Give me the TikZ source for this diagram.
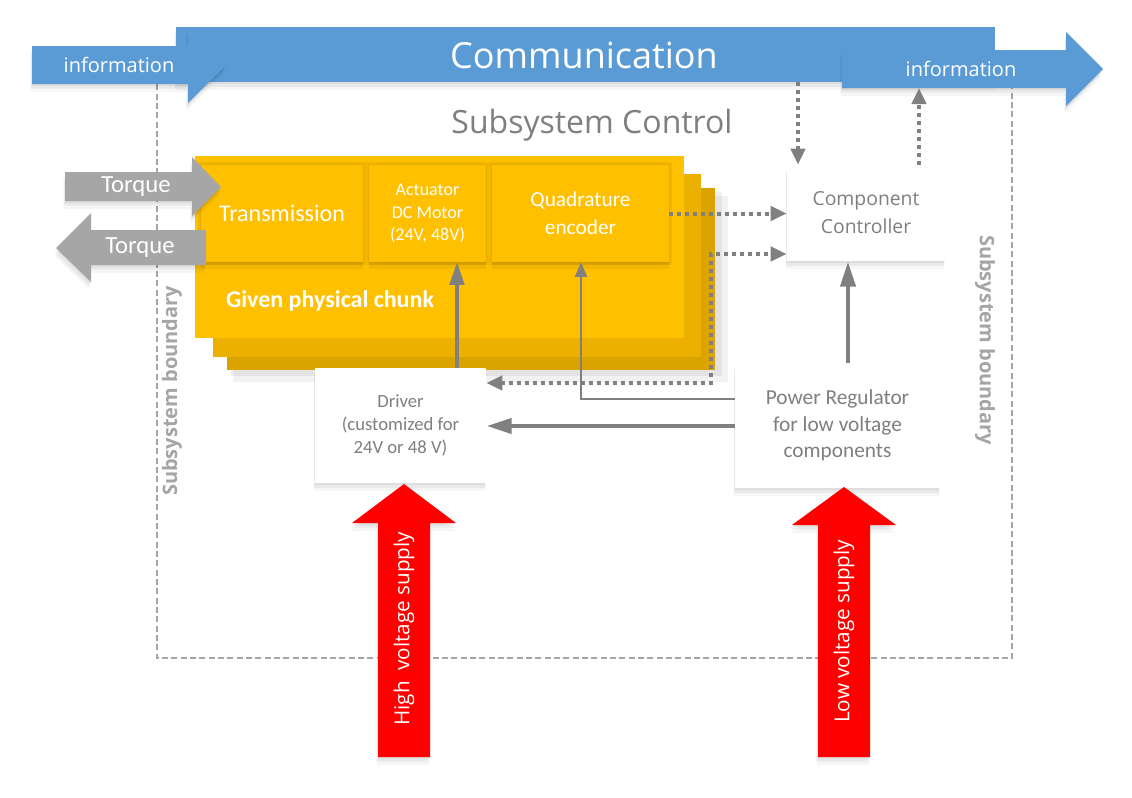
\documentclass[tikz,border=0pt]{standalone}
\usepackage{fontspec}
\setmainfont{Carlito}
\newfontfamily\osans{Open Sans}
\usetikzlibrary{arrows.meta,fit}
\definecolor{cblue}{HTML}{5B9BD5}
\definecolor{cgold}{HTML}{FFC000}
\definecolor{cgoldB}{HTML}{EBB000}
\definecolor{cgoldC}{HTML}{DBA300}
\definecolor{lgray}{HTML}{808080}
\definecolor{tgray}{HTML}{7F7F7F}
\definecolor{agray}{HTML}{A6A6A6}
\definecolor{bgray}{HTML}{A5A5A5}
\definecolor{cred}{HTML}{FF0000}
\tikzset{
  bound/.style={draw=bgray, line width=1.1pt, dash pattern=on 4.5pt off 2.5pt},
  softshadow/.style={
    preaction={fill=black, fill opacity=0.035, transform canvas={xshift=-1pt, yshift=-6pt}},
    preaction={fill=black, fill opacity=0.05, transform canvas={xshift=-1pt, yshift=-3.5pt}},
    preaction={fill=black, fill opacity=0.05, transform canvas={yshift=-1.5pt}}},
  whitebox/.style={fill=white, inner sep=0pt, align=center, text=tgray, softshadow},
  goldbox/.style={fill=cgold, inner sep=0pt, align=center, text=white,
    preaction={draw=black, draw opacity=0.05, line width=4pt},
    preaction={draw=black, draw opacity=0.05, line width=2pt},
    preaction={fill=black, fill opacity=0.05, transform canvas={yshift=-5pt}},
    preaction={fill=black, fill opacity=0.06, transform canvas={yshift=-2.5pt}}},
  bigarrow/.style={softshadow},
  lbl/.style={inner sep=0pt, text=white},
  dotline/.style={draw=lgray, line width=3pt, dash pattern=on 3pt off 3pt},
  dottip/.style={-{Triangle[length=12pt,width=10.5pt]}},
  solidA/.style={draw=lgray, line width=2.3pt, -{Triangle[length=17pt,width=11pt]}},
  solidB/.style={draw=lgray, line width=1.6pt, -{Triangle[length=11pt,width=9pt]}},
  solidC/.style={draw=lgray, line width=3.6pt, -{Triangle[length=19pt,width=11pt]}},
}
\begin{document}
\begin{tikzpicture}[x=0.75pt,y=-0.75pt]
\useasboundingbox (0,0) rectangle (1132,797);
\fill[white] (0,0) rectangle (1132,797);

% subsystem boundary
\draw[bound] (157,75) rectangle (1012,658);
\node[rotate=90, text=bgray, font=\osans\fontsize{15}{18}\selectfont\bfseries] (sbl) at (172,391) {Subsystem boundary};
\node[rotate=-90, text=bgray, font=\osans\fontsize{15}{18}\selectfont\bfseries] (sbr) at (985,340) {Subsystem boundary};

% communication bar
\node[fit={(176,27) (995,82)}, inner sep=0pt, fill=cblue, softshadow] (comm) {};
\node[lbl, font=\osans\fontsize{27}{32}\selectfont] (commt) at (584,55) {Communication};

% information arrows
\fill[cblue, bigarrow] (32,46) -- (188,46) -- (188,28) -- (226,65) -- (188,103) -- (188,84) -- (32,84) -- cycle;
\node[lbl, font=\osans\fontsize{15}{18}\selectfont] (infoL) at (119,65) {information};
\fill[cblue, bigarrow] (842,50) -- (1066,50) -- (1066,32) -- (1103,69) -- (1066,106) -- (1066,88) -- (842,88) -- cycle;
\node[lbl, font=\osans\fontsize{15}{18}\selectfont] (infoR) at (961,69) {information};
\coordinate (infoRb) at (919,88);

% subsystem control title
\node[text=tgray, inner sep=0pt, font=\osans\fontsize{24}{28}\selectfont] (sctl) at (592,125) {Subsystem Control};

% yellow stack
\fill[black, fill opacity=0.06] (231,192) rectangle (722,376);
\fill[black, fill opacity=0.05] (233,196) rectangle (728,382);
\fill[cgoldC] (227,188) rectangle (715,370);
\fill[cgoldB] (213,174) rectangle (701,357);
\node[fit={(195,156) (684,338)}, inner sep=0pt, fill=cgold] (chunk) {};
\node[goldbox, fit={(201,165) (363,262)}] (trans) {};
\node[goldbox, fit={(369,165) (486,262)}] (act) {};
\node[goldbox, fit={(492,165) (669,262)}] (quad) {};
\node[lbl, font=\fontsize{18}{21}\selectfont] at (trans.center) {Transmission};
\node[lbl, align=center, font=\fontsize{13.5}{17}\selectfont] at (act.center) {Actuator\\DC Motor\\(24V, 48V)};
\node[lbl, align=center, font=\fontsize{16}{21}\selectfont] at (quad.center) {Quadrature\\encoder};
\node[lbl, font=\fontsize{18}{21}\selectfont\bfseries] (chunkt) at (330,301) {Given physical chunk};

% torque arrows
\fill[agray, bigarrow] (65,172) -- (192,172) -- (192,157) -- (221,187) -- (192,216) -- (192,201) -- (65,201) -- cycle;
\node[lbl, font=\fontsize{18.5}{20}\selectfont] (tq1) at (136,187) {Torque};
\fill[agray, bigarrow] (206,230) -- (91,230) -- (91,213) -- (56,248) -- (91,282) -- (91,265) -- (206,265) -- cycle;
\node[lbl, font=\fontsize{18.5}{20}\selectfont] (tq2) at (140,248) {Torque};

% white boxes
\node[whitebox, fit={(787,165) (945,261)}] (cc) {};
\node[text=tgray, align=center, inner sep=0pt, font=\osans\fontsize{14.5}{21}\selectfont] at (cc.center) {Component\\Controller};
\node[whitebox, fit={(315,368) (486,483)}] (drv) {};
\node[text=tgray, align=center, inner sep=0pt, font=\fontsize{14}{17}\selectfont] at (drv.center) {Driver\\(customized for\\24V or 48 V)};
\node[whitebox, fit={(735,363) (940,488)}] (pr) {};
\node[text=tgray, align=center, inner sep=0pt, font=\fontsize{16}{20}\selectfont] at (pr.center) {Power Regulator\\for low voltage\\components};

% helper coordinates
\coordinate (x798) at (798,0);
\coordinate (x919) at (919,0);
\coordinate (x457) at (457,0);
\coordinate (x581) at (581,0);
\coordinate (x848) at (848,0);
\coordinate (j1) at (711,254);
\coordinate (j2) at (711,383);
\coordinate (y399) at (0,399);
\coordinate (y426) at (0,426);

% dotted connectors
\draw[dotline, dottip] (comm.south -| x798) -- (cc.north -| x798);
\draw[dotline, dottip] (cc.north -| x919) -- (infoRb);
\draw[dotline, dottip] (quad.east) -- (quad.east -| cc.west);
\draw[dotline, {Triangle[length=12pt,width=10.5pt]}-{Triangle[length=12pt,width=10.5pt]}]
  (drv.east |- j2) -- (j2) -- (j1) -- (j1 -| cc.west);

% solid connectors
\draw[solidA] (drv.north -| x457) -- (act.south -| x457);
\draw[solidB] (pr.west |- y399) -- (x581 |- y399) -- (quad.south -| x581);
\draw[solidC] (pr.west |- y426) -- (drv.east |- y426);
\draw[solidC] (pr.north -| x848) -- (cc.south -| x848);

% red supply arrows
\fill[cred, bigarrow] (378,757) -- (378,523) -- (352,523) -- (404,484) -- (456,523) -- (430,523) -- (430,757) -- cycle;
\node[lbl, rotate=90, anchor=west, font=\osans\fontsize{15.5}{18}\selectfont] (hv) at (404,726) {High\ \ voltage supply};
\fill[cred, bigarrow] (818,757) -- (818,525) -- (792,525) -- (844,487) -- (896,525) -- (870,525) -- (870,757) -- cycle;
\node[lbl, rotate=90, anchor=west, font=\osans\fontsize{15.5}{18}\selectfont] (lv) at (844,723) {Low voltage supply};
\end{tikzpicture}
\end{document}
